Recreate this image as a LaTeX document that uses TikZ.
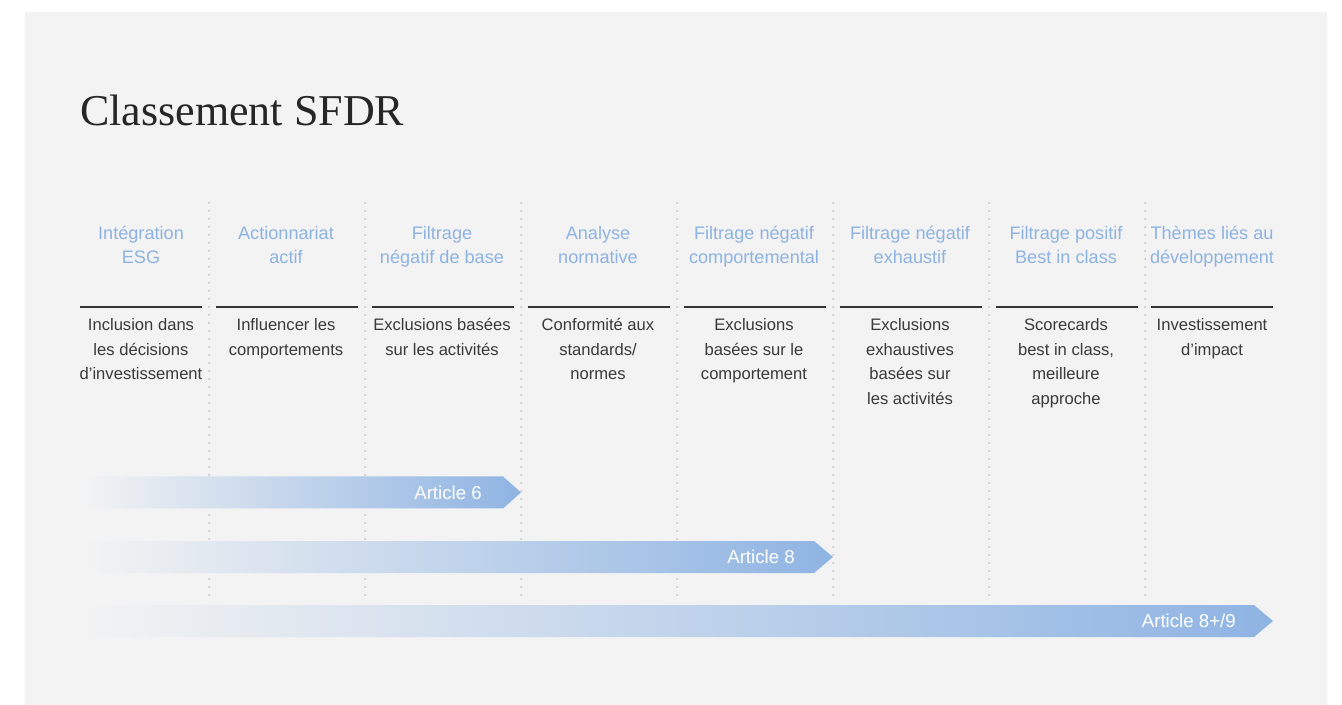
\documentclass[tikz,border=0pt]{standalone}
\usepackage{fontspec}
\setsansfont{Liberation Sans}
\newfontfamily\titlefont{Liberation Serif}

\definecolor{panel}{HTML}{F3F3F3}
\definecolor{headblue}{RGB}{141,179,227}
\definecolor{barblue}{RGB}{143,180,227}
\definecolor{ink}{HTML}{3A3A3A}

\begin{document}
\begin{tikzpicture}[x=0.75pt, y=-0.75pt,
    head/.style={text=headblue, align=center, anchor=base, inner sep=0pt,
      font=\sffamily\fontsize{13.6}{17.8}\selectfont},
    body/.style={text=ink, align=center, anchor=base, inner sep=0pt,
      font=\sffamily\fontsize{12.45}{18.3}\selectfont},
    rule/.style={draw=ink!90!black, line width=0.8pt},
    sep/.style={draw=black!25, line width=1.5pt, line cap=round,
      dash pattern=on 0pt off 6pt},
    bar/.style={left color=panel, right color=barblue, draw=none},
    barlabel/.style={text=white, anchor=base east, inner sep=0pt,
      font=\sffamily\fontsize{14}{16}\selectfont}]

  % Page and grey panel
  \useasboundingbox (0,0) rectangle (1342,705);
  \fill[white] (0,0) rectangle (1342,705);
  \fill[panel] (25,12) rectangle (1327,705);

  % Title
  \node[anchor=base west, inner sep=0pt, text=black!85,
    font=\titlefont\fontsize{33}{36}\selectfont] (titre) at (80,126) {Classement SFDR};

  % Dotted column separators
  \foreach \x in {209,365,...,1145}
    \draw[sep] (\x,203) -- (\x,600);

  % Column headings (placed at the baseline of their last line)
  \node[head] (h1) at (141,263.2) {Intégration\\ESG};
  \node[head] (h2) at (286,263.2) {Actionnariat\\actif};
  \node[head] (h3) at (442,263.2) {Filtrage\\négatif de base};
  \node[head] (h4) at (598,263.2) {Analyse\\normative};
  \node[head] (h5) at (754,263.2) {Filtrage négatif\\comportemental};
  \node[head] (h6) at (910,263.2) {Filtrage négatif\\exhaustif};
  \node[head] (h7) at (1066,263.2) {Filtrage positif\\Best in class};
  \node[head] (h8) at (1212,263.2) {Thèmes liés au\\développement};

  % Rules under the headings
  \draw[rule] (80,307) -- (202,307);
  \draw[rule] (215.5,307) -- (357.5,307);
  \draw[rule] (371.5,307) -- (513.5,307);
  \draw[rule] (527.5,307) -- (669.5,307);
  \draw[rule] (683.5,307) -- (825.5,307);
  \draw[rule] (839.5,307) -- (981.5,307);
  \draw[rule] (995.5,307) -- (1137.5,307);
  \draw[rule] (1151,307) -- (1273,307);

  % Descriptions (placed at the baseline of their last line)
  \node[body] (d1) at (141,379.8) {Inclusion dans\\les décisions\\d’investissement};
  \node[body] (d2) at (286,355.4) {Influencer les\\comportements};
  \node[body] (d3) at (442,355.4) {Exclusions basées\\sur les activités};
  \node[body] (d4) at (598,379.8) {Conformité aux\\standards/\\normes};
  \node[body] (d5) at (754,379.8) {Exclusions\\basées sur le\\comportement};
  \node[body] (d6) at (910,404.2) {Exclusions\\exhaustives\\basées sur\\les activités};
  \node[body] (d7) at (1066,404.2) {Scorecards\\best in class,\\meilleure\\approche};
  \node[body] (d8) at (1212,355.4) {Investissement\\d’impact};

  % Article bars
  \shade[bar] (83,476.5) -- (503,476.5) -- (521,492.5) -- (503,508.5) -- (83,508.5) -- cycle;
  \node[barlabel] (art6) at (482,499) {Article 6};

  \shade[bar] (83,541) -- (814,541) -- (833,557) -- (814,573) -- (83,573) -- cycle;
  \node[barlabel] (art8) at (795,563.5) {Article 8};

  \shade[bar] (83,605) -- (1254,605) -- (1273,621) -- (1254,637) -- (83,637) -- cycle;
  \node[barlabel] (art9) at (1236,627.5) {Article 8+/9};
\end{tikzpicture}
\end{document}
